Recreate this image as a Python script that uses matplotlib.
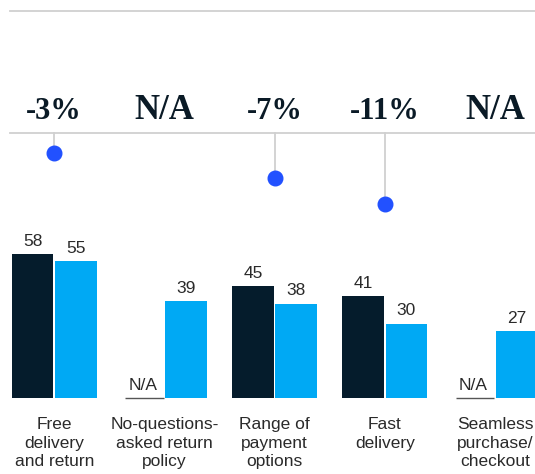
import numpy as np
import matplotlib

matplotlib.use("Agg")
import matplotlib.pyplot as plt

plt.rcParams["font.family"] = ["Liberation Sans", "DejaVu Sans"]

# 数据
categories = [
    "Free\ndelivery\nand return",
    "No-questions-\nasked return\npolicy",
    "Range of\npayment\noptions",
    "Fast\ndelivery",
    "Seamless\npurchase/\ncheckout",
]
before = [58, None, 45, 41, None]
after = [55, 39, 38, 30, 27]
change = [-3, None, -7, -11, None]

DARK = "#051C2C"
LIGHT = "#00A9F4"
DOT = "#2251FF"
GRID = "#D0D0D0"
TEXT = "#2A2A2A"

W, H = 535, 474
fig = plt.figure(figsize=(W / 100, H / 100), dpi=100)

x0, step = 54.2, 110.2        # 第一组中心像素、组间距
xlim = (-x0 / step, (W - x0) / step)
x = np.arange(len(categories))

# ---- 下半部分：柱状图 ----
base_px, top_px, ppu = 398.3, 220, 2.49
ax = fig.add_axes([0, (H - base_px) / H, 1, (base_px - top_px) / H])
ax.set_xlim(*xlim)
ax.set_ylim(0, (base_px - top_px) / ppu)
ax.axis("off")

bw, off = 0.377, 0.196
lab_gap = 3.3
for i in x:
    if before[i] is not None:
        ax.bar(i - off, before[i], bw, color=DARK, clip_on=False)
        ax.text(i - off, before[i] + lab_gap, str(before[i]), ha="center",
                va="baseline", fontsize=12.5, color=TEXT)
    else:
        ax.plot([i - off - bw / 2 + 0.03, i - off + bw / 2], [0, 0], color="#555555",
                lw=1.0, solid_capstyle="butt", clip_on=False)
        ax.text(i - off, lab_gap, "N/A", ha="center", va="baseline", fontsize=12.5,
                color=TEXT)
    ax.bar(i + off, after[i], bw, color=LIGHT, clip_on=False)
    ax.text(i + off, after[i] + lab_gap, str(after[i]), ha="center", va="baseline",
            fontsize=12.5, color=TEXT)
    ax.text(i, -7.6, categories[i], ha="center", va="top", fontsize=12.5,
            color=TEXT, linespacing=1.3)

# ---- 上半部分：变化百分比 ----
line_px, ppp = 133.3, 6.41
ax2 = fig.add_axes([0, (H - top_px) / H, 1, top_px / H])
ax2.set_xlim(*xlim)
ax2.set_ylim(-(top_px - line_px) / ppp, line_px / ppp)
ax2.axis("off")

xl = [-0.4, 5]
ax2.plot(xl, [(line_px - 11) / ppp] * 2, color=GRID, lw=1.3)
ax2.plot(xl, [0, 0], color=GRID, lw=1.3)
serif = ["Liberation Serif", "DejaVu Serif"]
for i in x:
    if change[i] is None:
        ax2.text(i, (line_px - 119) / ppp, "N/A", ha="center", va="baseline",
                 fontsize=25, fontweight="bold", family=serif, color="#0A1A26")
        continue
    ax2.text(i, (line_px - 119) / ppp, f"{change[i]}%", ha="center", va="baseline",
             fontsize=22, fontweight="bold", family=serif, color="#0A1A26")
    ax2.plot([i, i], [0, change[i]], color=GRID, lw=1.3, zorder=1)
    ax2.plot(i, change[i], "o", color=DOT, markersize=10.5, zorder=2)

fig.savefig("out.png", dpi=100)
